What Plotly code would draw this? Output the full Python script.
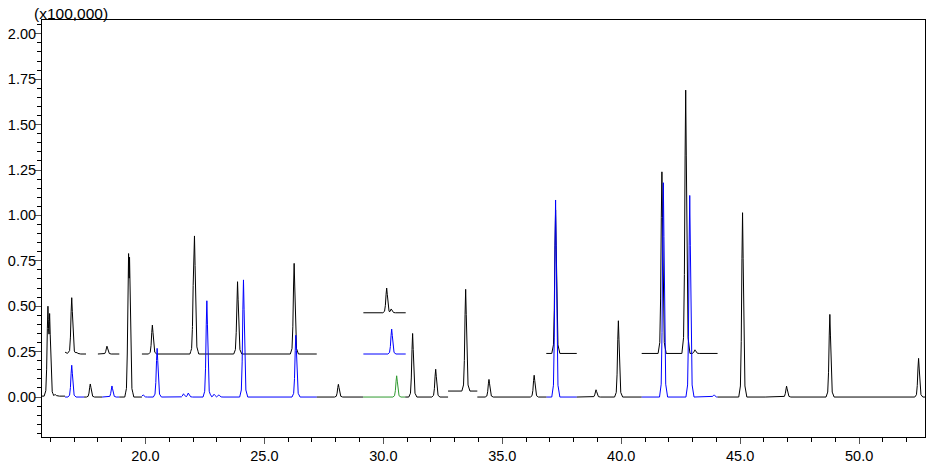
import numpy as np
import plotly.graph_objects as go

# ---------------- data ----------------
# Main trace (baseline ~0), drawn as coloured pieces between these breaks
main_breaks = [15.65, 16.62, 17.42, 18.18, 18.90, 19.85, 27.20, 29.15, 30.92,
               32.72, 33.95, 36.86, 38.13, 40.86, 44.05, 46.05, 52.77]
main_colors = ["black", "blue", "black", "blue", "black", "blue", "black", "green",
               "black", "black", "black", "blue", "black", "blue", "black", "black"]
main_base = [0.005, 0.0, 0.0, 0.0, 0.0, 0.0, 0.0, 0.0, 0.0, 0.033, 0.0, 0.0, 0.0, 0.0, 0.0, 0.0]

# Peaks of the main trace: retention time (min) and apex intensity (x100,000)
main_peak_rt = [15.90, 15.97, 16.20, 16.90, 17.68, 18.59, 19.29, 19.33, 19.90, 20.49,
                21.60, 21.80, 22.58, 22.88, 23.08, 24.12, 26.32, 28.11, 30.56, 31.23,
                32.20, 33.46, 34.44, 36.34, 37.24, 38.94, 39.88, 41.77, 42.88, 43.90,
                45.10, 46.95, 48.77, 52.50]
main_peak_h = [0.50, 0.46, 0.015, 0.175, 0.072, 0.061, 0.79, 0.77, 0.012, 0.268,
               0.018, 0.022, 0.53, 0.015, 0.012, 0.645, 0.34, 0.07, 0.117, 0.35,
               0.153, 0.593, 0.097, 0.12, 1.085, 0.04, 0.42, 1.18, 1.11, 0.012,
               1.015, 0.06, 0.455, 0.213]

# Offset (stacked) trace pieces
off_start = [16.62, 18.00, 19.85, 29.16, 29.16, 36.85, 40.86]
off_end = [17.50, 18.90, 27.20, 30.94, 30.94, 38.13, 44.05]
off_base = [0.237, 0.237, 0.237, 0.237, 0.464, 0.240, 0.240]
off_colors = ["black", "black", "black", "blue", "black", "black", "black"]

# Peaks of the offset pieces: piece index, retention time, apex intensity
off_peak_piece = [0, 0, 0, 0, 1, 2, 2, 2, 2, 2, 3, 4, 4, 5, 6, 6, 6]
off_peak_rt = [16.62, 16.78, 16.90, 17.10, 18.38, 20.29, 22.03, 22.06, 23.87, 26.25,
               30.35, 30.14, 30.33, 37.24, 41.71, 42.71, 43.10]
off_peak_h = [0.247, 0.250, 0.547, 0.247, 0.28, 0.396, 0.74, 0.887, 0.635, 0.736,
              0.374, 0.60, 0.485, 1.03, 1.24, 1.69, 0.26]

x_ticks = [20.0, 25.0, 30.0, 35.0, 40.0, 45.0, 50.0]
y_ticks = [0.00, 0.25, 0.50, 0.75, 1.00, 1.25, 1.50, 1.75, 2.00]

# ---------------- drawing helpers ----------------
COLORS = {"black": "#000000", "blue": "#0000ff", "green": "#2f9a2f"}
PROF_DX = np.array([-0.16, -0.09, -0.055, -0.025, 0.0, 0.025, 0.06, 0.10, 0.18])
PROF_F = np.array([0.0, 0.06, 0.30, 0.75, 1.0, 0.75, 0.30, 0.06, 0.0])


def piece(x0, x1, base, rts, apex):
    xs = {x0, x1}
    for rt in rts:
        for d in PROF_DX:
            v = rt + d
            if x0 < v < x1:
                xs.add(float(v))
    xs = np.array(sorted(xs))
    y = np.full_like(xs, base)
    for rt, a in zip(rts, apex):
        c = np.interp(xs, rt + PROF_DX, PROF_F, left=0.0, right=0.0) * (a - base)
        y = np.maximum(y, base + c)
    return xs, y


fig = go.Figure()

# offset pieces first
for i in range(len(off_start)):
    rts = [r for p, r in zip(off_peak_piece, off_peak_rt) if p == i]
    hs = [h for p, h in zip(off_peak_piece, off_peak_h) if p == i]
    xs, ys = piece(off_start[i], off_end[i], off_base[i], rts, hs)
    fig.add_trace(go.Scatter(x=xs, y=ys, mode="lines",
                             line=dict(color=COLORS[off_colors[i]], width=1),
                             hoverinfo="skip", showlegend=False))

# main trace pieces
for i in range(len(main_colors)):
    x0, x1 = main_breaks[i], main_breaks[i + 1]
    rts = [r for r in main_peak_rt if x0 <= r < x1]
    hs = [h for r, h in zip(main_peak_rt, main_peak_h) if x0 <= r < x1]
    xs, ys = piece(x0, x1, main_base[i], rts, hs)
    fig.add_trace(go.Scatter(x=xs, y=ys, mode="lines",
                             line=dict(color=COLORS[main_colors[i]], width=1),
                             hoverinfo="skip", showlegend=False))

FONT = "Liberation Sans, Arial, sans-serif"

fig.update_layout(
    width=937, height=470,
    margin=dict(l=42, r=12, t=20, b=33, autoexpand=False),
    paper_bgcolor="white", plot_bgcolor="white",
    font=dict(family=FONT, size=14, color="#000000"),
    showlegend=False,
    xaxis=dict(range=[15.65, 52.77], tickvals=x_ticks,
               ticktext=[f"{v:.1f}" for v in x_ticks], automargin=False,
               ticks="outside", ticklen=6, tickcolor="#555555", tickwidth=1,
               minor=dict(dtick=1, tick0=0, ticks="outside", ticklen=4,
                          tickcolor="#000000"),
               showline=True, linecolor="#000000", linewidth=1, mirror=True,
               showgrid=False, zeroline=False,
               tickfont=dict(family=FONT, size=14.5)),
    yaxis=dict(range=[-0.22, 2.076], tickvals=y_ticks,
               ticktext=[f"{v:.2f}" for v in y_ticks], automargin=False,
               ticks="outside", ticklen=6, tickcolor="#555555", tickwidth=1,
               ticklabelstandoff=-4,
               minor=dict(dtick=0.05, tick0=0, ticks="outside", ticklen=4,
                          tickcolor="#000000"),
               showline=True, linecolor="#000000", linewidth=1, mirror=True,
               showgrid=False, zeroline=False,
               tickfont=dict(family=FONT, size=14.5)),
    annotations=[dict(text="(x100,000)", xref="paper", yref="paper",
                      x=-0.0099, y=1.016, xanchor="left", yanchor="middle",
                      borderpad=0,
                      showarrow=False, font=dict(family=FONT, size=15.5))],
)

fig.write_html("out.html",
               config={"displayModeBar": False},
               post_script="document.body.style.margin='0';"
                           "document.body.style.overflow='hidden';")
